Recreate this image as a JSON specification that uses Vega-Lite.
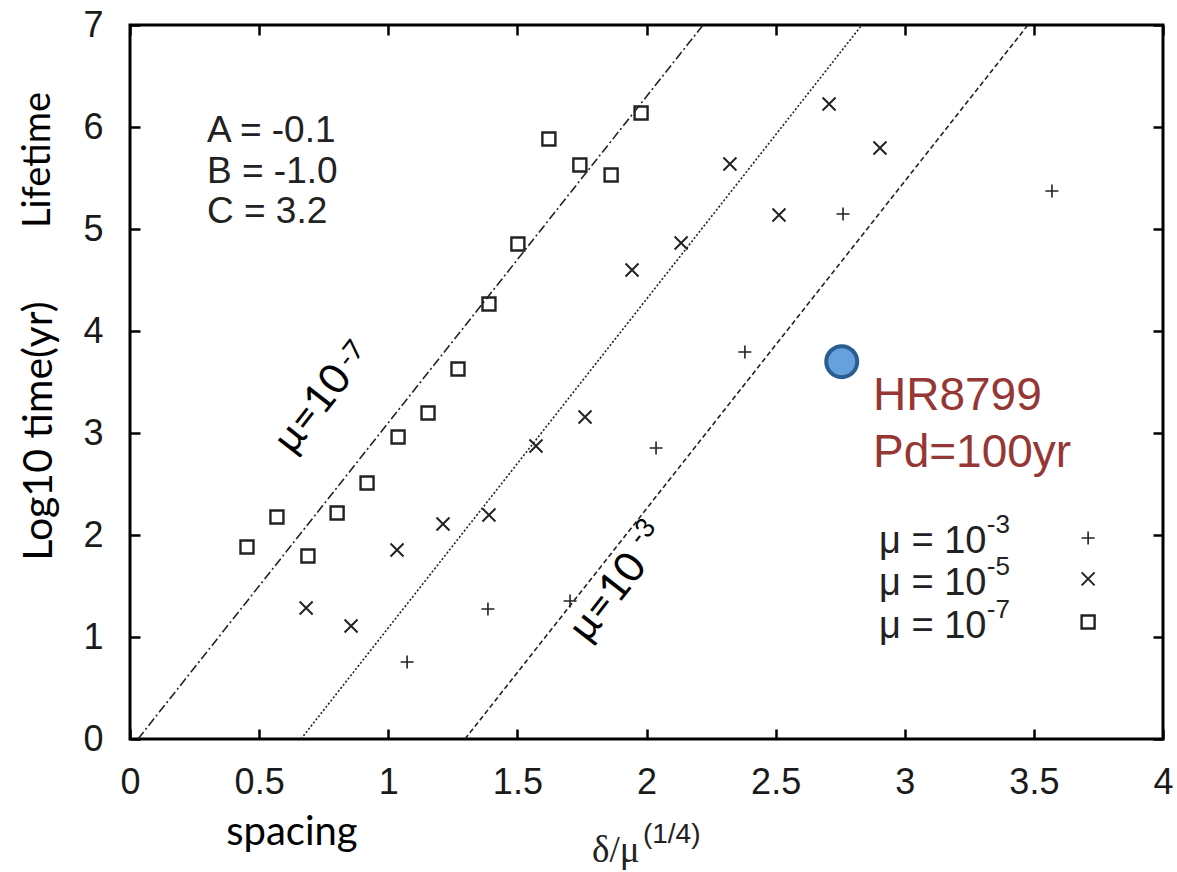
{
  "$schema": "https://vega.github.io/schema/vega-lite/v6.json",
  "width": 1033,
  "height": 714,
  "autosize": {"type": "none"},
  "padding": {"left": 130, "top": 25, "right": 14, "bottom": 133},
  "background": "white",
  "config": {
    "view": {"stroke": "black", "strokeWidth": 3},
    "axis": {"grid": false, "domain": false, "tickColor": "black", "tickWidth": 2.5, "tickSize": -10, "labelFont": "Liberation Sans", "labelFontSize": 36, "labelColor": "#1a1a1a", "title": null, "labelFlush": false, "labelOverlap": false}
  },
  "datasets": {
    "lines": [
      {"mu": "1e-7", "x": 0.031, "y": 0}, {"mu": "1e-7", "x": 2.219, "y": 7},
      {"mu": "1e-5", "x": 0.662, "y": 0}, {"mu": "1e-5", "x": 2.834, "y": 7},
      {"mu": "1e-3", "x": 1.297, "y": 0}, {"mu": "1e-3", "x": 3.477, "y": 7}
    ],
    "pts": [
      {"mu": "1e-7", "x": 0.453, "y": 1.882}, {"mu": "1e-7", "x": 0.569, "y": 2.176}, {"mu": "1e-7", "x": 0.689, "y": 1.794},
      {"mu": "1e-7", "x": 0.802, "y": 2.216}, {"mu": "1e-7", "x": 0.918, "y": 2.51}, {"mu": "1e-7", "x": 1.038, "y": 2.961},
      {"mu": "1e-7", "x": 1.154, "y": 3.196}, {"mu": "1e-7", "x": 1.27, "y": 3.627}, {"mu": "1e-7", "x": 1.39, "y": 4.265},
      {"mu": "1e-7", "x": 1.502, "y": 4.853}, {"mu": "1e-7", "x": 1.622, "y": 5.882}, {"mu": "1e-7", "x": 1.742, "y": 5.627},
      {"mu": "1e-7", "x": 1.863, "y": 5.529}, {"mu": "1e-7", "x": 1.979, "y": 6.137},
      {"mu": "1e-5", "x": 0.682, "y": 1.284}, {"mu": "1e-5", "x": 0.856, "y": 1.108}, {"mu": "1e-5", "x": 1.034, "y": 1.853},
      {"mu": "1e-5", "x": 1.212, "y": 2.108}, {"mu": "1e-5", "x": 1.39, "y": 2.196}, {"mu": "1e-5", "x": 1.572, "y": 2.873},
      {"mu": "1e-5", "x": 1.762, "y": 3.157}, {"mu": "1e-5", "x": 1.944, "y": 4.598}, {"mu": "1e-5", "x": 2.134, "y": 4.863},
      {"mu": "1e-5", "x": 2.323, "y": 5.637}, {"mu": "1e-5", "x": 2.513, "y": 5.137}, {"mu": "1e-5", "x": 2.707, "y": 6.225},
      {"mu": "1e-5", "x": 2.904, "y": 5.794},
      {"mu": "1e-3", "x": 1.073, "y": 0.755}, {"mu": "1e-3", "x": 1.386, "y": 1.275}, {"mu": "1e-3", "x": 1.704, "y": 1.353},
      {"mu": "1e-3", "x": 2.037, "y": 2.853}, {"mu": "1e-3", "x": 2.381, "y": 3.794}, {"mu": "1e-3", "x": 2.761, "y": 5.147},
      {"mu": "1e-3", "x": 3.57, "y": 5.373}
    ],
    "legpts": [
      {"mu": "1e-3", "x": 3.71, "y": 1.97}, {"mu": "1e-5", "x": 3.71, "y": 1.57}, {"mu": "1e-7", "x": 3.71, "y": 1.147}
    ],
    "hr": [{"name": "HR8799", "x": 2.756, "y": 3.699}],
    "abc": [
      {"t": "A = -0.1", "x": 0.298, "y": 5.853}, {"t": "B = -1.0", "x": 0.298, "y": 5.451}, {"t": "C = 3.2", "x": 0.298, "y": 5.059}
    ],
    "hrtext": [
      {"t": "HR8799", "x": 2.877, "y": 3.225}, {"t": "Pd=100yr", "x": 2.877, "y": 2.667}
    ],
    "legmain": [
      {"t": "μ = 10", "x": 2.9, "y": 1.824}, {"t": "μ = 10", "x": 2.9, "y": 1.412}, {"t": "μ = 10", "x": 2.9, "y": 0.99}
    ],
    "legsup": [
      {"t": "-3", "x": 3.318, "y": 2.02}, {"t": "-5", "x": 3.318, "y": 1.608}, {"t": "-7", "x": 3.318, "y": 1.186}
    ],
    "rotmain": [
      {"t": "μ=10", "x": 0.708, "y": 3.235}, {"t": "μ=10", "x": 1.85, "y": 1.39}
    ],
    "rotsup": [
      {"t": "-7", "x": 0.857, "y": 3.769}, {"t": "-3", "x": 1.986, "y": 2.024}
    ],
    "xt1": [{"t": "δ/μ", "x": 1.789, "y": -1.206}],
    "xt2": [{"t": "(1/4)", "x": 1.986, "y": -1.02}],
    "spacing": [{"t": "spacing", "x": 0.627, "y": -1.039}],
    "ylab1": [{"t": "Log10 time(yr)", "x": -0.349, "y": 3.02}],
    "ylab2": [{"t": "Lifetime", "x": -0.352, "y": 5.676}]
  },
  "resolve": {"axis": {"x": "independent", "y": "independent"}},
  "layer": [
    {
      "data": {"name": "lines"},
      "mark": {"type": "line", "color": "#222", "strokeWidth": 1.6},
      "encoding": {
        "x": {"field": "x", "type": "quantitative", "scale": {"domain": [0, 4], "nice": false, "zero": false},
              "axis": {"orient": "bottom", "values": [0, 0.5, 1, 1.5, 2, 2.5, 3, 3.5, 4], "labelExpr": "datum.value", "labelPadding": 36}},
        "y": {"field": "y", "type": "quantitative", "scale": {"domain": [0, 7], "nice": false, "zero": false},
              "axis": {"orient": "left", "values": [0, 1, 2, 3, 4, 5, 6, 7], "labelPadding": 37}},
        "detail": {"field": "mu"},
        "strokeDash": {"field": "mu", "type": "nominal", "scale": {"domain": ["1e-7", "1e-5", "1e-3"], "range": [[9, 3, 2, 3], [2, 2], [5, 3]]}, "legend": null}
      }
    },
    {
      "data": {"name": "pts"},
      "mark": {"type": "point", "filled": false, "color": "#222", "opacity": 1, "size": 169},
      "encoding": {
        "x": {"field": "x", "type": "quantitative", "axis": {"orient": "top", "values": [0, 0.5, 1, 1.5, 2, 2.5, 3, 3.5, 4], "labels": false}},
        "y": {"field": "y", "type": "quantitative", "axis": {"orient": "right", "values": [0, 1, 2, 3, 4, 5, 6, 7], "labels": false}},
        "shape": {"field": "mu", "type": "nominal", "scale": {"domain": ["1e-3", "1e-5", "1e-7"], "range": ["M-1,0L1,0M0,-1L0,1", "M-1,-1L1,1M-1,1L1,-1", "square"]}, "legend": null},
        "strokeWidth": {"field": "mu", "type": "ordinal", "scale": {"domain": ["1e-3", "1e-5", "1e-7"], "range": [1.6, 2.4, 2]}, "legend": null}
      }
    },
    {
      "data": {"name": "legpts"},
      "mark": {"type": "point", "filled": false, "color": "#222", "opacity": 1, "size": 169},
      "encoding": {
        "x": {"field": "x", "type": "quantitative", "axis": null},
        "y": {"field": "y", "type": "quantitative", "axis": null},
        "shape": {"field": "mu", "type": "nominal", "legend": null},
        "strokeWidth": {"field": "mu", "type": "ordinal", "legend": null}
      }
    },
    {
      "data": {"name": "hr"},
      "mark": {"type": "point", "shape": "circle", "filled": true, "fill": "#66A0DD", "stroke": "#2A5E93", "strokeWidth": 4, "size": 960, "opacity": 1},
      "encoding": {
        "x": {"field": "x", "type": "quantitative", "axis": null},
        "y": {"field": "y", "type": "quantitative", "axis": null}
      }
    },
    {
      "data": {"name": "abc"},
      "mark": {"type": "text", "font": "Liberation Sans", "fontSize": 37, "align": "left", "baseline": "alphabetic", "color": "#222"},
      "encoding": {
        "x": {"field": "x", "type": "quantitative", "axis": null},
        "y": {"field": "y", "type": "quantitative", "axis": null},
        "text": {"field": "t"}
      }
    },
    {
      "data": {"name": "hrtext"},
      "mark": {"type": "text", "font": "Liberation Sans", "fontSize": 46, "align": "left", "baseline": "alphabetic", "color": "#953735"},
      "encoding": {
        "x": {"field": "x", "type": "quantitative", "axis": null},
        "y": {"field": "y", "type": "quantitative", "axis": null},
        "text": {"field": "t"}
      }
    },
    {
      "data": {"name": "legmain"},
      "mark": {"type": "text", "font": "Liberation Sans", "fontSize": 38, "align": "left", "baseline": "alphabetic", "color": "#222"},
      "encoding": {
        "x": {"field": "x", "type": "quantitative", "axis": null},
        "y": {"field": "y", "type": "quantitative", "axis": null},
        "text": {"field": "t"}
      }
    },
    {
      "data": {"name": "legsup"},
      "mark": {"type": "text", "font": "Liberation Sans", "fontSize": 26, "align": "left", "baseline": "alphabetic", "color": "#222"},
      "encoding": {
        "x": {"field": "x", "type": "quantitative", "axis": null},
        "y": {"field": "y", "type": "quantitative", "axis": null},
        "text": {"field": "t"}
      }
    },
    {
      "data": {"name": "rotmain"},
      "mark": {"type": "text", "font": "Lato", "fontSize": 42, "align": "center", "baseline": "middle", "angle": 308, "color": "black"},
      "encoding": {
        "x": {"field": "x", "type": "quantitative", "axis": null},
        "y": {"field": "y", "type": "quantitative", "axis": null},
        "text": {"field": "t"}
      }
    },
    {
      "data": {"name": "rotsup"},
      "mark": {"type": "text", "font": "Lato", "fontSize": 27, "align": "center", "baseline": "middle", "angle": 308, "color": "black"},
      "encoding": {
        "x": {"field": "x", "type": "quantitative", "axis": null},
        "y": {"field": "y", "type": "quantitative", "axis": null},
        "text": {"field": "t"}
      }
    },
    {
      "data": {"name": "xt1"},
      "mark": {"type": "text", "font": "Liberation Serif", "fontSize": 37, "align": "left", "baseline": "alphabetic", "color": "#222"},
      "encoding": {
        "x": {"field": "x", "type": "quantitative", "axis": null},
        "y": {"field": "y", "type": "quantitative", "axis": null},
        "text": {"field": "t"}
      }
    },
    {
      "data": {"name": "xt2"},
      "mark": {"type": "text", "font": "Liberation Sans", "fontSize": 28, "align": "left", "baseline": "alphabetic", "color": "#222"},
      "encoding": {
        "x": {"field": "x", "type": "quantitative", "axis": null},
        "y": {"field": "y", "type": "quantitative", "axis": null},
        "text": {"field": "t"}
      }
    },
    {
      "data": {"name": "spacing"},
      "mark": {"type": "text", "font": "Lato", "fontSize": 40, "align": "center", "baseline": "alphabetic", "color": "black"},
      "encoding": {
        "x": {"field": "x", "type": "quantitative", "axis": null},
        "y": {"field": "y", "type": "quantitative", "axis": null},
        "text": {"field": "t"}
      }
    },
    {
      "data": {"name": "ylab1"},
      "mark": {"type": "text", "font": "Lato", "fontSize": 41, "align": "center", "baseline": "middle", "angle": 270, "color": "black"},
      "encoding": {
        "x": {"field": "x", "type": "quantitative", "axis": null},
        "y": {"field": "y", "type": "quantitative", "axis": null},
        "text": {"field": "t"}
      }
    },
    {
      "data": {"name": "ylab2"},
      "mark": {"type": "text", "font": "Lato", "fontSize": 38, "align": "center", "baseline": "middle", "angle": 270, "color": "black"},
      "encoding": {
        "x": {"field": "x", "type": "quantitative", "axis": null},
        "y": {"field": "y", "type": "quantitative", "axis": null},
        "text": {"field": "t"}
      }
    }
  ]
}
